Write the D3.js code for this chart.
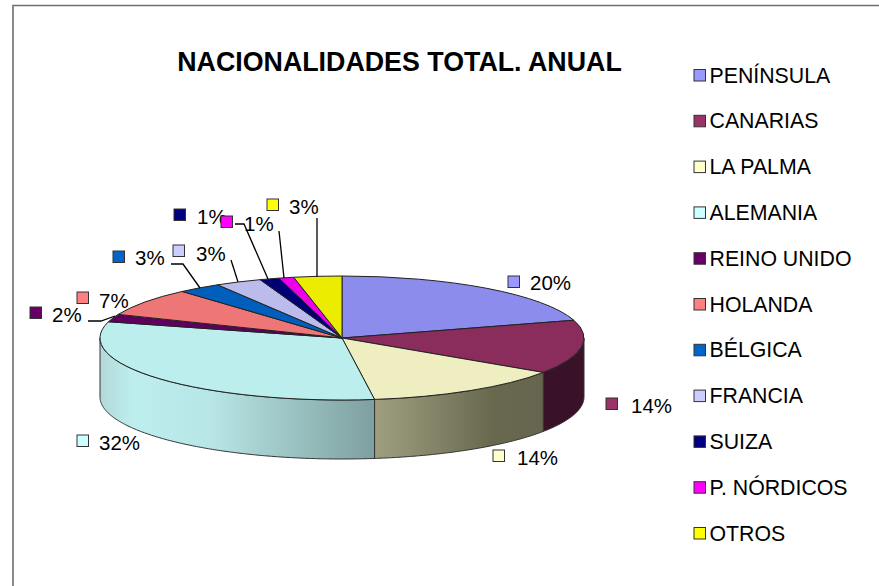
<!DOCTYPE html>
<html>
<head>
<meta charset="utf-8"/>
<title>Nacionalidades total anual</title>
<script src="https://cdnjs.cloudflare.com/ajax/libs/d3/7.8.5/d3.min.js"></script>
<style>
  html, body { margin: 0; padding: 0; background: #fff; }
  svg { display: block; }
  text { font-family: "Liberation Sans", Arial, sans-serif; fill: #000; }
</style>
</head>
<body>
<div id="chart"></div>
<script>
var categories = ["PENÍNSULA", "CANARIAS", "LA PALMA", "ALEMANIA", "REINO UNIDO", "HOLANDA", "BÉLGICA", "FRANCIA", "SUIZA", "P. NÓRDICOS", "OTROS"];
var values = [20.4, 14.0, 13.5, 31.4, 2.0, 7.3, 2.9, 3.1, 1.3, 1.0, 3.2];
var percentLabels = ["20%", "14%", "14%", "32%", "2%", "7%", "3%", "3%", "1%", "1%", "3%"];
var keyColors = ["#9999ff", "#993366", "#ffffcc", "#ccffff", "#660066", "#ff8080", "#0066cc", "#ccccff", "#000080", "#ff00ff", "#ffff00"];
var topColors = ["#8c8cec", "#8a2d5c", "#eeeec0", "#bdeeee", "#5e005e", "#ee7676", "#005ebc", "#bcbcec", "#000076", "#ec00ec", "#ecec00"];

// where the label key squares and texts sit, by slice
var labelX = [514, 612, 499, 83, 36, 83, 119, 179, 180, 227, 273];
var labelY = [282, 404, 456, 441, 313, 298, 257, 251, 215, 222, 205];
var textX = [530, 631, 517, 99, 52, 99, 135, 196, 197, 244, 289];
var textY = [290, 413, 465, 450, 322, 308, 265, 261, 224, 231, 214];
// leader lines for the small slices: [from label, elbow, to rim]
var leaders = {
  4: [[88, 321], [101, 321], [115, 316]],
  6: [[171, 264], [183, 264], [200, 288]],
  7: [[231, 260], [238, 282]],
  8: [[235, 224], [244, 224], [268, 279]],
  9: [[279, 231], [284, 278]],
  10: [[317, 218], [317, 277]]
};

var width = 879, height = 586;
var cx = 342, cy = 338, rx = 242, ry = 62, depth = 59;

var svg = d3.select("#chart").append("svg").attr("width", width).attr("height", height);

// frame: only the top and left edges fall inside the picture
svg.append("path").attr("d", d3.line()([[13, 586], [13, 5.5], [879, 5.5]]))
  .attr("fill", "none").attr("stroke", "#6e6e6e").attr("stroke-width", 1.6);

svg.append("text").attr("x", 399.5).attr("y", 71)
  .attr("text-anchor", "middle").attr("font-size", 26.8).attr("font-weight", "bold")
  .text("NACIONALIDADES TOTAL. ANUAL");

var pie = d3.pie().sort(null)(values);
var arc = d3.arc().innerRadius(0).outerRadius(rx);

// side wall gradients
var defs = svg.append("defs");
function wallGradient(id, x1, x2, stops) {
  var g = defs.append("linearGradient").attr("id", id)
    .attr("gradientUnits", "userSpaceOnUse")
    .attr("x1", x1).attr("x2", x2).attr("y1", 0).attr("y2", 0);
  stops.forEach(function (s) { g.append("stop").attr("offset", s[0]).attr("stop-color", s[1]); });
}
wallGradient("wall3", 100, 375, [[0, "#b4d8d8"], [0.12, "#bdeeee"], [0.4, "#b8e6e6"], [1, "#7e9f9f"]]);
wallGradient("wall2", 375, 544, [[0, "#9f9f80"], [0.7, "#68684f"], [1, "#66664e"]]);
wallGradient("wall1", 544, 584, [[0, "#3a1228"], [1, "#3a1228"]]);

function rimPoint(a, drop) {
  return [cx + rx * Math.sin(a), cy - ry * Math.cos(a) + drop];
}

// only the front half of the rim has a visible wall
var wallLine = d3.line();
pie.forEach(function (d, i) {
  var a0 = Math.max(d.startAngle, Math.PI / 2), a1 = Math.min(d.endAngle, 3 * Math.PI / 2);
  if (a1 <= a0) return;
  var angles = d3.range(a0, a1, 0.01).concat([a1]);
  var pts = angles.map(function (a) { return rimPoint(a, 0); })
    .concat(angles.slice().reverse().map(function (a) { return rimPoint(a, depth); }));
  svg.append("path").attr("d", wallLine(pts) + "Z")
    .attr("fill", "url(#wall" + i + ")")
    .attr("stroke", "#333").attr("stroke-width", 1).attr("stroke-linejoin", "round");
});

// top face, a circular d3.arc squashed to the ellipse
svg.append("g").attr("transform", "translate(" + cx + "," + cy + ") scale(1," + (ry / rx) + ")")
  .selectAll("path").data(pie).join("path")
  .attr("d", arc)
  .attr("fill", function (d, i) { return topColors[i]; })
  .attr("stroke", "#222")
  .attr("stroke-width", 1)
  .attr("vector-effect", "non-scaling-stroke")
  .attr("stroke-linejoin", "round");

// leader lines
var leaderLine = d3.line();
Object.keys(leaders).forEach(function (k) {
  svg.append("path").attr("d", leaderLine(leaders[k]))
    .attr("fill", "none").attr("stroke", "#000").attr("stroke-width", 1.3);
});

// data labels
var labels = svg.append("g").selectAll("g").data(percentLabels).join("g");
labels.append("rect")
  .attr("x", function (d, i) { return labelX[i] - 6; })
  .attr("y", function (d, i) { return labelY[i] - 6; })
  .attr("width", 11.5).attr("height", 11.5)
  .attr("fill", function (d, i) { return keyColors[i]; })
  .attr("stroke", "#333").attr("stroke-width", 1);
labels.append("text")
  .attr("x", function (d, i) { return textX[i]; })
  .attr("y", function (d, i) { return textY[i]; })
  .attr("font-size", 20.5)
  .text(function (d) { return d; });

// legend
var legendY = d3.scalePoint().domain(categories).range([75, 533]);
var legend = svg.append("g").selectAll("g").data(categories).join("g")
  .attr("transform", function (d) { return "translate(694," + legendY(d) + ")"; });
legend.append("rect").attr("x", 0).attr("y", -5.5).attr("width", 11.5).attr("height", 11.5)
  .attr("fill", function (d, i) { return keyColors[i]; })
  .attr("stroke", "#333").attr("stroke-width", 1);
legend.append("text").attr("x", 15.5).attr("y", 7.5).attr("font-size", 21.3)
  .text(function (d) { return d; });
</script>
</body>
</html>
